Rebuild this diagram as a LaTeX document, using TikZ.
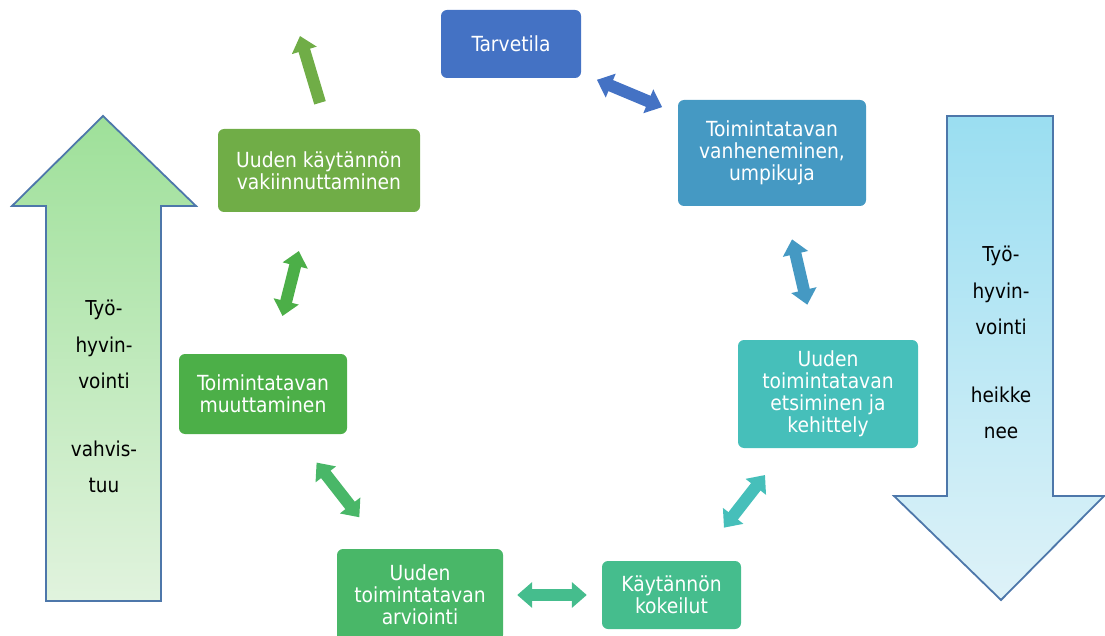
\documentclass[tikz,border=0pt]{standalone}
\usepackage{fontspec}
\setmainfont{DejaVu Sans Condensed}
\usetikzlibrary{arrows.meta}

% Step colours of the cycle
\definecolor{cTarve}{HTML}{4472C4}
\definecolor{cVanh}{HTML}{4599C3}
\definecolor{cEts}{HTML}{46BFBA}
\definecolor{cKok}{HTML}{45BD8D}
\definecolor{cArv}{HTML}{49B768}
\definecolor{cMuut}{HTML}{4CAF48}
\definecolor{cVak}{HTML}{70AD47}
% Side arrows
\definecolor{edgeBlue}{HTML}{4D77AA}
\definecolor{upTop}{HTML}{9EE099}
\definecolor{upBot}{HTML}{E1F3DE}
\definecolor{downTop}{HTML}{9ADEF1}
\definecolor{downBot}{HTML}{DEF2F8}

\begin{document}
\begin{tikzpicture}[x=1pt,y=-1pt,
  stepbox/.style={rectangle, rounded corners=6pt, align=center, text=white,
    inner sep=0pt, font=\fontsize{20.8}{22}\selectfont},
  link/.style={line width=12pt,
    {Triangle[length=15pt,width=25pt]}-{Triangle[length=15pt,width=25pt]}},
  onelink/.style={line width=12pt, -{Triangle[length=15pt,width=25pt]}},
  bigarrow/.style={draw=edgeBlue, line width=1.8pt, line join=miter},
  sidetext/.style={align=center, inner sep=0pt, text=black, anchor=north,
    font=\fontsize{20.5}{36.5}\selectfont}]

\useasboundingbox (0,0) rectangle (1105,636);

% Well-being arrows at the sides
\path[bigarrow, top color=upTop, bottom color=upBot]
  (103,116) -- (196,206) -- (161,206) -- (161,601) -- (46,601)
  -- (46,206) -- (12,206) -- cycle;
\path[bigarrow, top color=downTop, bottom color=downBot]
  (947,116) -- (1053,116) -- (1053,496) -- (1104,496) -- (1001,600)
  -- (894,496) -- (947,496) -- cycle;

\node[sidetext] (wellup) at (104,300) {Työ-\\hyvin-\\vointi\\[31pt]vahvis-\\tuu};
\node[sidetext] (welldown) at (1001,246) {Työ-\\hyvin-\\vointi\\[31pt]heikke\\nee};

% Steps of the cycle
\node[stepbox, fill=cTarve, minimum width=140pt, minimum height=68pt]
  (tarve) at (511,44) {Tarvetila};
\node[stepbox, fill=cVanh, minimum width=188pt, minimum height=106pt]
  (vanh) at (772,153) {Toimintatavan\\vanheneminen,\\umpikuja};
\node[stepbox, fill=cEts, minimum width=180pt, minimum height=108pt]
  (ets) at (828,394) {Uuden\\toimintatavan\\etsiminen ja\\kehittely};
\node[stepbox, fill=cKok, minimum width=139pt, minimum height=68pt]
  (kok) at (671.5,595) {Käytännön\\kokeilut};
\node[stepbox, fill=cArv, minimum width=166pt, minimum height=92pt]
  (arv) at (420,595) {Uuden\\toimintatavan\\arviointi};
\node[stepbox, fill=cMuut, minimum width=168pt, minimum height=80pt]
  (muut) at (263,394) {Toimintatavan\\muuttaminen};
\node[stepbox, fill=cVak, minimum width=202pt, minimum height=83pt]
  (vak) at (319,170.5) {Uuden käytännön\\vakiinnuttaminen};

% Links between the steps
\draw[link, cTarve, shorten <=17pt, shorten >=17pt] (tarve) -- (vanh);
\draw[link, cVanh, shorten <=34pt, shorten >=36pt] (vanh) -- (ets);
\draw[link, cEts, shorten <=34pt, shorten >=42pt] (ets) -- (kok);
\draw[link, cKok, shorten <=15pt, shorten >=14pt] (kok) -- (arv);
\draw[link, cArv, shorten <=40pt, shorten >=36pt] (arv) -- (muut);
\draw[link, cMuut, shorten <=39pt, shorten >=40pt] (muut) -- (vak);

% The cycle starts over
\coordinate (again) at (300,36);
\draw[onelink, cVak] ([xshift=1pt,yshift=26pt]vak.north) -- (again);

\end{tikzpicture}
\end{document}
